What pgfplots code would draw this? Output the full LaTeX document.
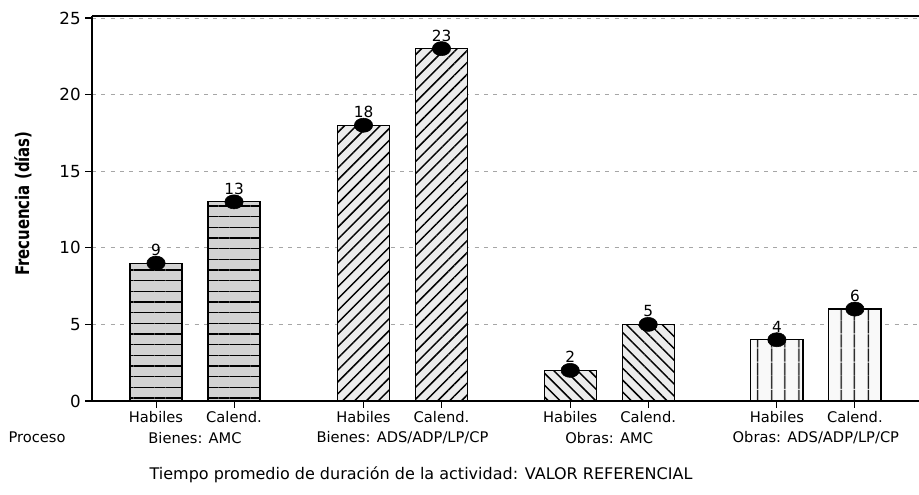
\documentclass[border=0pt]{standalone}
\usepackage{fontspec}
\setmainfont{DejaVu Sans}
\newfontfamily\ylabfont{DejaVu Sans}[FakeStretch=0.8]
\usepackage{pgfplots}
\pgfplotsset{compat=1.18}
\usetikzlibrary{patterns.meta}
\begin{document}
\begin{tikzpicture}
\useasboundingbox (-69pt,-69.75pt) rectangle (620.25pt,300.75pt);
\begin{axis}[
 scale only axis, width=620.25pt, height=288.75pt,
 xmin=-0.821, xmax=9.782, ymin=0, ymax=25.13,
 axis lines*=left, axis line style={line width=0.9pt, -},
 ytick={0,5,10,15,20,25},
 xtick={0,1,2.66,3.66,5.31,6.31,7.96,8.96},
 xticklabels={Habiles,Calend.,Habiles,Calend.,Habiles,Calend.,Habiles,Calend.},
 tick align=outside, major tick length=5pt, tick style={black, line width=0.8pt},
 ymajorgrids, grid style={gray!70, dash pattern=on 3pt off 4pt, line width=0.5pt},
 yticklabel style={font=\fontsize{12.5}{14}\selectfont},
 xticklabel style={font=\fontsize{11}{13}\selectfont, yshift=0.5pt},
 /pgf/number format/assume math mode=true,
 clip=false,
]
\addplot[ybar, bar shift=0pt, bar width=0.667, draw=black, line width=0.9pt, fill=gray!35,
  postaction={pattern={Lines[angle=0,distance=8pt,line width=1.1pt]}}]
  coordinates {(0,9) (1,13)};
\addplot[ybar, bar shift=0pt, bar width=0.667, draw=black, line width=0.9pt, fill=gray!15,
  postaction={pattern={Lines[angle=45,distance=6.3pt,line width=1.1pt]}}]
  coordinates {(2.66,18) (3.66,23)};
\addplot[ybar, bar shift=0pt, bar width=0.667, draw=black, line width=0.9pt, fill=gray!15,
  postaction={pattern={Lines[angle=-45,distance=6.3pt,line width=1.1pt]}}]
  coordinates {(5.31,2) (6.31,5)};
\addplot[ybar, bar shift=0pt, bar width=0.667, draw=black, line width=0.9pt, fill=gray!5,
  postaction={pattern={Lines[angle=90,distance=10.5pt,line width=1pt]}}]
  coordinates {(7.96,4) (8.96,6)};
\addplot[only marks, mark=*, mark size=5.3pt, mark options={xscale=1.3, fill=black, draw=black},
  nodes near coords, nodes near coords style={font=\fontsize{11.5}{13}\selectfont, yshift=2pt}]
  coordinates {(0,9) (1,13) (2.66,18) (3.66,23) (5.31,2) (6.31,5) (7.96,4) (8.96,6)};
\draw[line width=0.9pt] (rel axis cs:0,1) -- (rel axis cs:1,1);
\node[font=\fontsize{11}{13}\selectfont] at (axis cs:0.5,0) [yshift=-27.5pt] {Bienes: AMC};
\node[font=\fontsize{11}{13}\selectfont] at (axis cs:3.16,0) [yshift=-27.5pt] {Bienes: ADS/ADP/LP/CP};
\node[font=\fontsize{11}{13}\selectfont] at (axis cs:5.81,0) [yshift=-27.5pt] {Obras: AMC};
\node[font=\fontsize{11}{13}\selectfont] at (axis cs:8.46,0) [yshift=-27.5pt] {Obras: ADS/ADP/LP/CP};
\end{axis}
\node[font=\fontsize{11}{13}\selectfont] at (-41.25pt,-27.5pt) {Proceso};
\node[font=\fontsize{12}{14}\selectfont] at (246.75pt,-55.5pt) {Tiempo promedio de duración de la actividad: VALOR REFERENCIAL};
\node[rotate=90, font=\ylabfont\bfseries\fontsize{14}{16}\selectfont] at (-51.75pt,148pt) {Frecuencia (días)};
\end{tikzpicture}
\end{document}
